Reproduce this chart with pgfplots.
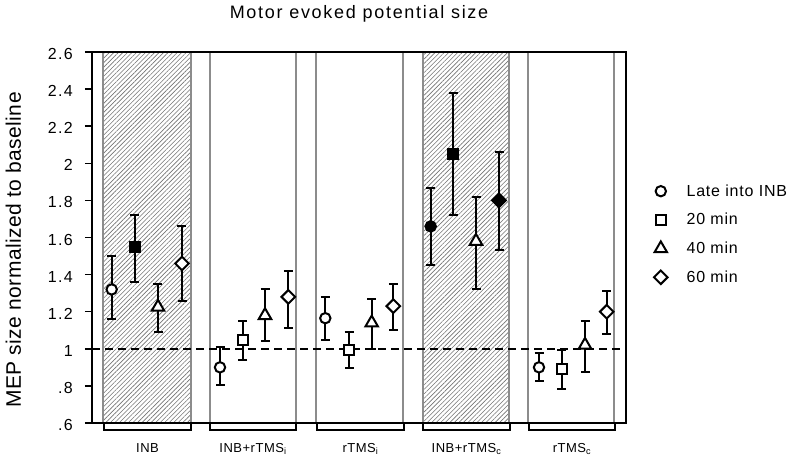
\documentclass[border=0pt]{standalone}
\usepackage{fontspec}
\setmainfont{Liberation Sans}
\usepackage{pgfplots}
\pgfplotsset{compat=1.18}
\usepackage{pgfplotstable}
\usetikzlibrary{patterns.meta}

% x in chart units (panel layout), y = MEP size normalized to baseline
\pgfplotstableread{
x y lo hi
111.7 1.32 1.16 1.50
220.0 0.90 0.805 1.01
325.3 1.165 1.05 1.28
539.0 0.90 0.825 0.975
}\circOpen
\pgfplotstableread{
x y lo hi
430.7 1.66 1.45 1.865
}\circFilled
\pgfplotstableread{
x y lo hi
242.7 1.05 0.94 1.15
349.0 0.995 0.895 1.09
561.7 0.89 0.785 0.995
}\sqOpen
\pgfplotstableread{
x y lo hi
135.0 1.55 1.36 1.72
453.3 2.05 1.72 2.38
}\sqFilled
\pgfplotstableread{
x y lo hi
158.0 1.225 1.09 1.35
265.0 1.18 1.04 1.32
371.7 1.14 1.00 1.27
476.0 1.58 1.32 1.82
585.0 1.02 0.875 1.15
}\triOpen
\pgfplotstableread{
x y lo hi
182.0 1.46 1.26 1.66
288.3 1.28 1.11 1.42
393.3 1.23 1.10 1.35
606.7 1.20 1.08 1.31
}\diaOpen
\pgfplotstableread{
x y lo hi
499.0 1.80 1.53 2.06
}\diaFilled

\newcommand{\tickfont}{\fontsize{16}{19}\selectfont\addfontfeatures{LetterSpace=8}}
\newcommand{\catfont}{\fontsize{13}{16}\selectfont\addfontfeatures{LetterSpace=4}}
\newcommand{\legfont}{\fontsize{16}{19}\selectfont\addfontfeatures{LetterSpace=5}}

\pgfplotsset{
  mep/.style={only marks, black, line width=2pt,
    /pgfplots/error bars/y dir=both, /pgfplots/error bars/y explicit,
    /pgfplots/error bars/error bar style={line width=2pt, black, solid},
    /pgfplots/error bars/error mark options={rotate=90, line width=2pt, mark size=4.5pt, black, solid, fill=black}},
}

\begin{document}
\begin{tikzpicture}
\begin{axis}[
  scale only axis, width=534pt, height=371pt,
  xmin=92, xmax=626, ymin=0.6, ymax=2.6,
  clip=false, axis on top,
  axis line style={line width=1.8pt, black},
  ytick={0.6,0.8,1,1.2,1.4,1.6,1.8,2,2.2,2.4,2.6},
  yticklabels={.6,.8,1,1.2,1.4,1.6,1.8,2,2.2,2.4,2.6},
  ytick pos=left, tick align=outside, major tick length=7pt,
  y tick style={line width=1.5pt, black},
  xtick={147.5,253,360.5,466.5,572},
  xticklabels={INB, INB+rTMS\textsubscript{i}, rTMS\textsubscript{i}, INB+rTMS\textsubscript{c}, rTMS\textsubscript{c}},
  x tick style={draw=none}, xtick pos=bottom,
  /pgf/number format/assume math mode=true,
  yticklabel style={font=\tickfont, inner sep=0pt, anchor=east, xshift=-12pt, yshift=-2pt},
  xticklabel style={font=\catfont, inner sep=0pt, anchor=base, yshift=-22.5pt},
  title={\fontsize{18}{22}\selectfont\addfontfeatures{LetterSpace=9.5}Motor evoked potential size},
  every axis title/.style={at={(axis description cs:0.5,1.0916)}, anchor=base},
  ylabel={\fontsize{21}{25}\selectfont\addfontfeatures{LetterSpace=2}MEP size normalized to baseline},
  every axis y label/.style={at={(axis description cs:-0.13296,0.4663)}, rotate=90, anchor=base},
  legend style={at={(axis description cs:1.0521,0.6640)}, anchor=north west,
    draw=none, fill=none, inner sep=0pt, font=\legfont,
    nodes={inner sep=0pt, minimum height=28.7pt},
    /tikz/every odd column/.append style={column sep=19pt}},
  legend cell align=left,
  legend image code/.code={\draw[#1] plot coordinates {(0pt,0pt)};},
]
% shaded (INB) panels
\fill[pattern={Lines[angle=45,distance=3.2pt,line width=0.6pt]}, pattern color=black!55]
  (axis cs:103,0.6) rectangle (axis cs:191,2.6);
\fill[pattern={Lines[angle=45,distance=3.2pt,line width=0.6pt]}, pattern color=black!55]
  (axis cs:423,0.6) rectangle (axis cs:509,2.6);
% panel borders
\draw[black!45, line width=1.6pt] (axis cs:103,0.6) -- (axis cs:103,2.6);
\draw[black!45, line width=1.6pt] (axis cs:191,0.6) -- (axis cs:191,2.6);
\draw[black!45, line width=1.6pt] (axis cs:210,0.6) -- (axis cs:210,2.6);
\draw[black!45, line width=1.6pt] (axis cs:296,0.6) -- (axis cs:296,2.6);
\draw[black!45, line width=1.6pt] (axis cs:316,0.6) -- (axis cs:316,2.6);
\draw[black!45, line width=1.6pt] (axis cs:403,0.6) -- (axis cs:403,2.6);
\draw[black!45, line width=1.6pt] (axis cs:423,0.6) -- (axis cs:423,2.6);
\draw[black!45, line width=1.6pt] (axis cs:509,0.6) -- (axis cs:509,2.6);
\draw[black!45, line width=1.6pt] (axis cs:528,0.6) -- (axis cs:528,2.6);
\draw[black!45, line width=1.6pt] (axis cs:614,0.6) -- (axis cs:614,2.6);
% brackets below the axis
\draw[black, line width=1.3pt] (axis cs:104,0.6) -- (axis cs:104,0.5623) -- (axis cs:191,0.5623) -- (axis cs:191,0.6);
\draw[black, line width=1.3pt] (axis cs:210,0.6) -- (axis cs:210,0.5623) -- (axis cs:296,0.5623) -- (axis cs:296,0.6);
\draw[black, line width=1.3pt] (axis cs:317,0.6) -- (axis cs:317,0.5623) -- (axis cs:404,0.5623) -- (axis cs:404,0.6);
\draw[black, line width=1.3pt] (axis cs:423,0.6) -- (axis cs:423,0.5623) -- (axis cs:510,0.5623) -- (axis cs:510,0.6);
\draw[black, line width=1.3pt] (axis cs:529,0.6) -- (axis cs:529,0.5623) -- (axis cs:615,0.5623) -- (axis cs:615,0.6);
% baseline
\draw[black, line width=1.6pt, dash pattern=on 8pt off 5pt] (axis cs:92,1.0) -- (axis cs:626,1.0);

\addplot[mep, mark=*, mark size=5.2pt, mark options={fill=white, draw=black, line width=2pt}]
  table[x=x, y=y, y error plus expr=\thisrow{hi}-\thisrow{y}, y error minus expr=\thisrow{y}-\thisrow{lo}] {\circOpen};
\addlegendentry{Late into INB}
\addplot[mep, mark=square*, mark size=5pt, mark options={fill=white, draw=black, line width=2pt}]
  table[x=x, y=y, y error plus expr=\thisrow{hi}-\thisrow{y}, y error minus expr=\thisrow{y}-\thisrow{lo}] {\sqOpen};
\addlegendentry{20 min}
\addplot[mep, mark=triangle*, mark size=7.2pt, mark options={fill=white, draw=black, line width=2pt}]
  table[x=x, y=y, y error plus expr=\thisrow{hi}-\thisrow{y}, y error minus expr=\thisrow{y}-\thisrow{lo}] {\triOpen};
\addlegendentry{40 min}
\addplot[mep, mark=square*, mark size=4.8pt, mark options={rotate=45, fill=white, draw=black, line width=2pt}]
  table[x=x, y=y, y error plus expr=\thisrow{hi}-\thisrow{y}, y error minus expr=\thisrow{y}-\thisrow{lo}] {\diaOpen};
\addlegendentry{60 min}

\addplot[mep, forget plot, mark=*, mark size=5.2pt, mark options={fill=black, draw=black, line width=2pt}]
  table[x=x, y=y, y error plus expr=\thisrow{hi}-\thisrow{y}, y error minus expr=\thisrow{y}-\thisrow{lo}] {\circFilled};
\addplot[mep, forget plot, mark=square*, mark size=5pt, mark options={fill=black, draw=black, line width=2pt}]
  table[x=x, y=y, y error plus expr=\thisrow{hi}-\thisrow{y}, y error minus expr=\thisrow{y}-\thisrow{lo}] {\sqFilled};
\addplot[mep, forget plot, mark=square*, mark size=4.8pt, mark options={rotate=45, fill=black, draw=black, line width=2pt}]
  table[x=x, y=y, y error plus expr=\thisrow{hi}-\thisrow{y}, y error minus expr=\thisrow{y}-\thisrow{lo}] {\diaFilled};

\coordinate (bbBL) at (axis cs:0,0.4221);
\coordinate (bbTR) at (axis cs:792,2.8803);
\end{axis}
\pgfresetboundingbox
\useasboundingbox (bbBL) rectangle (bbTR);
\end{tikzpicture}
\end{document}
